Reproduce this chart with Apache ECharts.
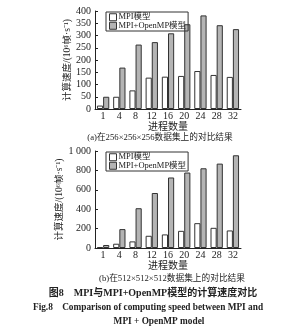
<!DOCTYPE html>
<html><head><meta charset="utf-8">
<script src="https://cdn.jsdelivr.net/npm/echarts@6/dist/echarts.min.js"></script>
<style>html,body{margin:0;padding:0;background:#fff}#c{width:296px;height:334px}</style>
</head><body><div id="c"></div>
<script>
const categories = ['1','4','8','12','16','20','24','28','32'];
const mpiA = [14, 50, 76, 128, 132, 135, 155, 139, 131];
const hybridA = [50, 169, 263, 273, 309, 346, 382, 342, 326];
const mpiB = [10, 44, 68, 126, 140, 177, 256, 208, 181];
const hybridB = [31, 195, 410, 567, 727, 778, 822, 870, 956];
const seriesNames = ['MPI模型', 'MPI+OpenMP模型'];
const yNameText = '计算速度/(10⁶帧·s⁻¹)';
const xNameText = '进程数量';

const FF = '"Liberation Serif", "Noto Sans CJK SC", serif';
const chart = echarts.init(document.getElementById('c'), null, {renderer:'canvas'});

function xAxis(gi){
  return {type:'category', gridIndex:gi, data:categories,
    axisLine:{lineStyle:{color:'#222', width:1}}, axisTick:{show:false},
    axisLabel:{color:'#222', fontSize:10, fontFamily:FF, margin:2},
    name:xNameText, nameLocation:'middle', nameGap:11,
    nameTextStyle:{color:'#222', fontSize:10, fontFamily:FF}};
}
function yAxis(gi, max, interval, gap, fmt){
  return {type:'value', gridIndex:gi, min:0, max:max, interval:interval,
    axisLine:{show:true, lineStyle:{color:'#222', width:1}},
    axisTick:{show:true, inside:true, length:3, lineStyle:{color:'#222'}},
    splitLine:{show:false},
    axisLabel:{color:'#222', fontSize:10, fontFamily:FF, margin:4, formatter:fmt},
    name:yNameText, nameLocation:'middle', nameGap:gap, nameRotate:90,
    nameTextStyle:{color:'#222', fontSize:9.5, fontFamily:FF}};
}
const whiteStyle = {color:'#ffffff', borderColor:'#333', borderWidth:1};
const grayStyle = {color:'#b4b4b4', borderColor:'#333', borderWidth:1};
function bars(gi, a, b){
  return [
    {type:'bar', name:seriesNames[0], xAxisIndex:gi, yAxisIndex:gi, data:a, itemStyle:whiteStyle, barGap:'0%', barCategoryGap:'24%'},
    {type:'bar', name:seriesNames[1], xAxisIndex:gi, yAxisIndex:gi, data:b, itemStyle:grayStyle, barGap:'0%', barCategoryGap:'24%'}
  ];
}
function legend(top){
  return {orient:'vertical', left:106, top:top, itemGap:0, itemWidth:7, itemHeight:7,
    icon:'rect', borderColor:'#333', borderWidth:1, padding:[1,2,1,3], borderRadius:0,
    data:[{name:seriesNames[0], itemStyle:whiteStyle},{name:seriesNames[1], itemStyle:grayStyle}],
    textStyle:{color:'#222', fontSize:8.5, fontFamily:FF, padding:[0,0,0,-3]}};
}
const option = {
  animation:false,
  grid:[
    {left:95, top:11, width:146, height:98},
    {left:95, top:151, width:146, height:97}
  ],
  xAxis:[xAxis(0), xAxis(1)],
  yAxis:[
    yAxis(0, 400, 50, 22, v=>String(v)),
    yAxis(1, 1000, 200, 30, v=> v>=1000 ? '1 000' : String(v))
  ],
  legend:[legend(12), legend(152)],
  series:[...bars(0, mpiA, hybridA), ...bars(1, mpiB, hybridB)],
  graphic:[
    {type:'text', x:160, y:138, style:{text:'(a)在256×256×256数据集上的对比结果', font:'8.7px '+FF, fill:'#222', textAlign:'center', textVerticalAlign:'middle'}},
    {type:'text', x:172, y:279, style:{text:'(b)在512×512×512数据集上的对比结果', font:'8.7px '+FF, fill:'#222', textAlign:'center', textVerticalAlign:'middle'}},
    {type:'text', x:153, y:293, style:{text:'图8    MPI与MPI+OpenMP模型的计算速度对比', font:'bold 10px '+FF, fill:'#222', textAlign:'center', textVerticalAlign:'middle'}},
    {type:'text', x:148, y:308, style:{text:'Fig.8    Comparison of computing speed between MPI and', font:'bold 9.3px '+FF, fill:'#222', textAlign:'center', textVerticalAlign:'middle'}},
    {type:'text', x:159, y:322, style:{text:'MPI + OpenMP model', font:'bold 9.3px '+FF, fill:'#222', textAlign:'center', textVerticalAlign:'middle'}}
  ]
};
chart.setOption(option);
</script></body></html>
